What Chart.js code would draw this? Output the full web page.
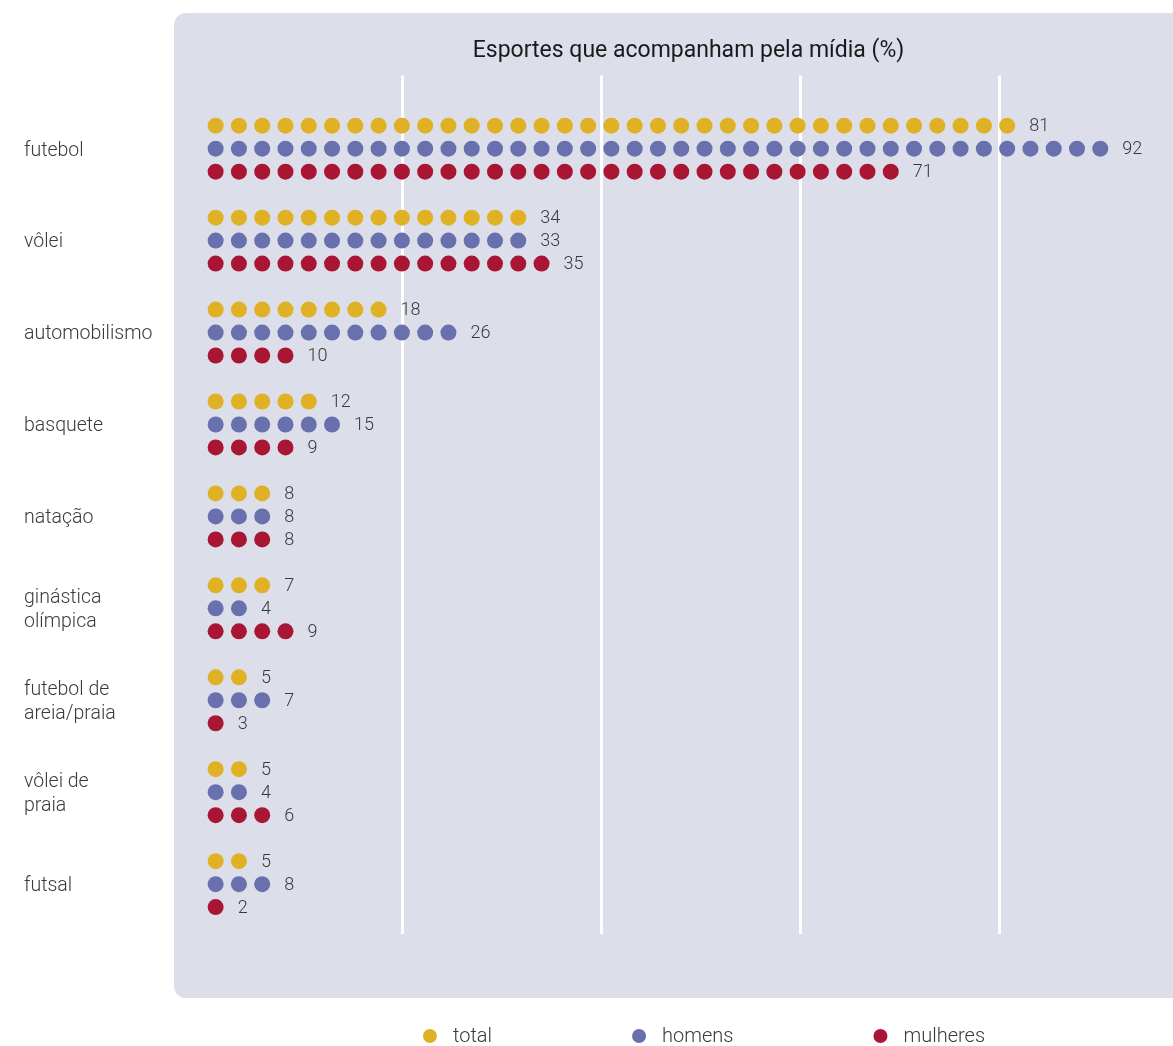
<!DOCTYPE html>
<html lang="pt">
<head>
<meta charset="utf-8">
<title>Esportes que acompanham pela mídia</title>
<script src="https://cdn.jsdelivr.net/npm/chart.js@4.4.1/dist/chart.umd.min.js"></script>
<style>
  html, body { margin: 0; padding: 0; background: #fff; }
  #wrap { width: 1173px; height: 1046px; }
</style>
</head>
<body>
<div id="wrap"><canvas id="sportsChart" width="1173" height="1046"></canvas></div>
<script>
// Esportes que acompanham pela mídia (%)
const sports = ['futebol', 'vôlei', 'automobilismo', 'basquete', 'natação',
  ['ginástica', 'olímpica'], ['futebol de', 'areia/praia'], ['vôlei de', 'praia'], 'futsal'];
const seriesNames = ['total', 'homens', 'mulheres'];
const totalValues = [81, 34, 18, 12, 8, 7, 5, 5, 5];
const menValues = [92, 33, 26, 15, 8, 4, 7, 4, 8];
const womenValues = [71, 35, 10, 9, 8, 9, 3, 6, 2];
const gridValues = [20, 40, 60, 80];

const colors = ['#e0b124', '#6870ae', '#a81633'];
const DOT_STEP = 2.34;      // % represented by one dot
const ROWS_PER_GROUP = 4;   // 3 series rows + 1 blank row
const FONT = 'Roboto';
const TEXT_COLOR = '#3a3a3a';

// one point per dot, laid out along the x axis
function dotsFor(values, row) {
  const pts = [];
  values.forEach((v, g) => {
    const n = Math.max(1, Math.floor(v / DOT_STEP + 0.45));
    for (let k = 0; k < n; k++) {
      pts.push({ x: (k + 0.5) * DOT_STEP, y: g * ROWS_PER_GROUP + row, value: v, last: k === n - 1 });
    }
  });
  return pts;
}

// rounded background panel behind the plot
const panel = {
  id: 'panel',
  beforeDraw(chart) {
    const { ctx, chartArea } = chart;
    ctx.save();
    ctx.fillStyle = '#fff';
    ctx.fillRect(0, 0, chart.width, chart.height);
    ctx.fillStyle = '#dcdeea';
    ctx.beginPath();
    const left = chartArea.left - 30;
    ctx.roundRect(left, 13, chart.width - left + 20, chartArea.bottom + 64 - 13, 12);
    ctx.fill();
    ctx.restore();
  }
};

// number written after the last dot of each row
const valueLabels = {
  id: 'valueLabels',
  afterDatasetsDraw(chart) {
    const ctx = chart.ctx;
    ctx.save();
    ctx.font = '300 18px ' + FONT;
    ctx.fillStyle = TEXT_COLOR;
    ctx.textBaseline = 'middle';
    ctx.textAlign = 'left';
    chart.data.datasets.forEach((ds, i) => {
      chart.getDatasetMeta(i).data.forEach((pt, j) => {
        const raw = ds.data[j];
        if (raw.last) ctx.fillText(String(raw.value), pt.x + 22, pt.y + 1);
      });
    });
    ctx.restore();
  }
};

// legend row under the panel
const dotLegend = {
  id: 'dotLegend',
  afterDraw(chart) {
    const ctx = chart.ctx;
    ctx.save();
    ctx.font = '300 20px ' + FONT;
    ctx.textBaseline = 'middle';
    const r = 7, textGap = 16, itemGap = 140;
    const items = chart.data.datasets.map(ds => ({
      label: ds.label,
      color: ds.backgroundColor,
      w: 2 * r + textGap + ctx.measureText(ds.label).width
    }));
    const full = items.reduce((s, it) => s + it.w, 0) + itemGap * (items.length - 1);
    let x = 704 - full / 2;
    const y = 1036;
    items.forEach(it => {
      ctx.fillStyle = it.color;
      ctx.beginPath();
      ctx.arc(x + r, y, r, 0, Math.PI * 2);
      ctx.fill();
      ctx.fillStyle = TEXT_COLOR;
      ctx.fillText(it.label, x + 2 * r + textGap, y + 1);
      x += it.w + itemGap;
    });
    ctx.restore();
  }
};

const seriesValues = [totalValues, menValues, womenValues];

new Chart(document.getElementById('sportsChart'), {
  type: 'scatter',
  data: {
    datasets: seriesNames.map((name, i) => ({
      label: name,
      data: dotsFor(seriesValues[i], i),
      backgroundColor: colors[i],
      borderWidth: 0,
      pointRadius: 8,
      pointHoverRadius: 8
    }))
  },
  options: {
    responsive: false,
    animation: false,
    devicePixelRatio: 1,
    layout: { autoPadding: false, padding: { left: 24, right: 0, top: 0, bottom: 112 } },
    plugins: {
      legend: { display: false },
      tooltip: { enabled: false },
      title: {
        display: true,
        text: 'Esportes que acompanham pela mídia (%)',
        fullSize: false,
        color: '#1a1a1a',
        font: { family: FONT, size: 23, weight: 400 },
        padding: { top: 37, bottom: 11 }
      }
    },
    scales: {
      x: {
        type: 'linear',
        position: 'bottom',
        min: 0,
        max: 97.4,
        afterBuildTicks: scale => { scale.ticks = gridValues.map(v => ({ value: v })); },
        ticks: { display: false },
        border: { display: false },
        grid: { color: '#ffffff', lineWidth: 3, drawTicks: false }
      },
      y: {
        type: 'linear',
        reverse: true,
        min: -2.18,
        max: 35.17,
        afterBuildTicks: scale => {
          scale.ticks = sports.map((_, g) => ({ value: g * ROWS_PER_GROUP + 1 }));
        },
        afterFit: scale => { scale.width = 180; },
        ticks: {
          crossAlign: 'far',
          padding: 0,
          labelOffset: 2,
          color: TEXT_COLOR,
          font: { family: FONT, size: 19.5, weight: 300, lineHeight: 1.25 },
          callback: value => sports[Math.round((value - 1) / ROWS_PER_GROUP)]
        },
        border: { display: false },
        grid: { display: false, drawTicks: false }
      }
    }
  },
  plugins: [panel, valueLabels, dotLegend]
});
</script>
</body>
</html>
